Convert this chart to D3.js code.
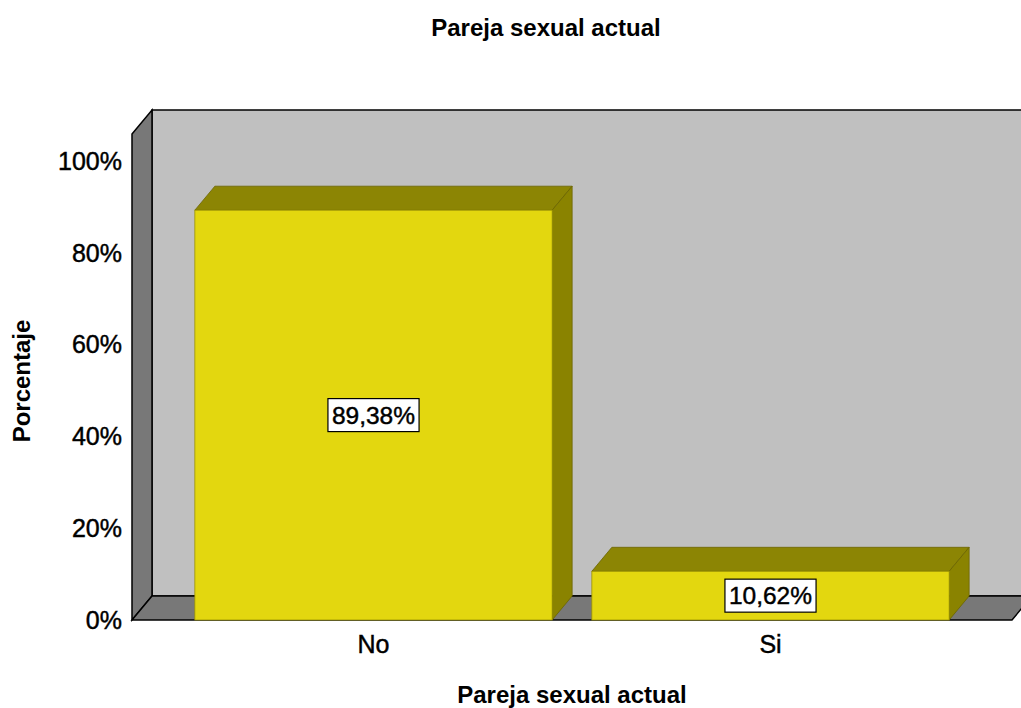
<!DOCTYPE html>
<html>
<head>
<meta charset="utf-8">
<script src="https://cdn.jsdelivr.net/npm/d3@7"></script>
<style>
  body { margin: 0; background: #fff; }
  text { font-family: "Liberation Sans", Arial, sans-serif; fill: #000; }
  .lbl { stroke: #000; stroke-width: 0.45px; }
</style>
</head>
<body>
<svg id="chart" width="1021" height="708"></svg>
<script>
const categories = ["No", "Si"];
const values = [0.8938, 0.1062];
const yTicks = [0, 0.2, 0.4, 0.6, 0.8, 1.0];

const width = 1021;
const height = 708;
const depthX = 20;
const depthY = -24;

const svg = d3.select("#chart");

const es = d3.formatLocale({ decimal: ",", thousands: ".", grouping: [3], currency: ["", "€"] });
const pct = es.format(".2%");

// front plane scales
const yScale = d3.scaleLinear().domain([0, 1]).range([620, 161.5]);
const xScale = d3.scaleBand()
    .domain(categories)
    .range([175, 969])
    .paddingInner(0.1)
    .paddingOuter(0.05);

const left = 132, right = 1012;
const floorY = yScale(0);
const topY = yScale(1.06);

function poly(pts) { return "M" + pts.map(p => p.join(",")).join("L") + "Z"; }

// back wall
svg.append("path")
    .attr("d", poly([[left + depthX, topY + depthY], [right + depthX + 40, topY + depthY],
        [right + depthX + 40, floorY + depthY], [left + depthX, floorY + depthY]]))
    .attr("fill", "#c0c0c0")
    .attr("stroke", "#000")
    .attr("stroke-width", 1.5);

// left wall
svg.append("path")
    .attr("d", poly([[left, topY], [left + depthX, topY + depthY],
        [left + depthX, floorY + depthY], [left, floorY]]))
    .attr("fill", "#787878")
    .attr("stroke", "#000")
    .attr("stroke-width", 1.5);

// floor
svg.append("path")
    .attr("d", poly([[left, floorY], [left + depthX, floorY + depthY],
        [right + depthX, floorY + depthY], [right, floorY]]))
    .attr("fill", "#787878")
    .attr("stroke", "#000")
    .attr("stroke-width", 1.5);

// bars
const bars = svg.selectAll(".bar")
    .data(categories.map((c, i) => ({ cat: c, value: values[i] })))
    .join("g")
    .attr("class", "bar");

bars.append("path") // top
    .attr("d", d => {
        const x0 = xScale(d.cat), x1 = x0 + xScale.bandwidth(), y = yScale(d.value);
        return poly([[x0, y], [x0 + depthX, y + depthY], [x1 + depthX, y + depthY], [x1, y]]);
    })
    .attr("fill", "#8c8504")
    .attr("stroke", "#6b6500")
    .attr("stroke-width", 0.8);

bars.append("path") // side
    .attr("d", d => {
        const x1 = xScale(d.cat) + xScale.bandwidth(), y = yScale(d.value);
        return poly([[x1, y], [x1 + depthX, y + depthY], [x1 + depthX, floorY + depthY], [x1, floorY]]);
    })
    .attr("fill", "#8a8300")
    .attr("stroke", "#6b6500")
    .attr("stroke-width", 0.8);

bars.append("rect") // front
    .attr("x", d => xScale(d.cat))
    .attr("y", d => yScale(d.value))
    .attr("width", xScale.bandwidth())
    .attr("height", d => floorY - yScale(d.value))
    .attr("fill", "#e3d70f")
    .attr("stroke", "#9a9200")
    .attr("stroke-width", 0.8);

// value labels
bars.each(function (d) {
    const g = d3.select(this);
    const cx = xScale(d.cat) + xScale.bandwidth() / 2;
    const cy = (yScale(d.value) + floorY) / 2;
    const t = g.append("text")
        .attr("class", "lbl")
        .attr("x", cx)
        .attr("y", cy)
        .attr("text-anchor", "middle")
        .attr("dy", "0.35em")
        .attr("font-size", "24.5px")
        .text(pct(d.value));
    const bb = t.node().getBBox();
    g.insert("rect", "text")
        .attr("x", bb.x - 4)
        .attr("y", cy - 16.5)
        .attr("width", bb.width + 8)
        .attr("height", 33)
        .attr("fill", "#fff")
        .attr("stroke", "#000")
        .attr("stroke-width", 1.2);
});

// y axis
const yAxis = svg.append("g")
    .attr("transform", `translate(${left},0)`)
    .call(d3.axisLeft(yScale).tickValues(yTicks).tickSize(0).tickPadding(10).tickFormat(d3.format(".0%")));
yAxis.select(".domain").remove();
yAxis.selectAll("text").attr("class", "lbl").attr("font-size", "25px").attr("font-family", "Liberation Sans, Arial, sans-serif");

// x axis
const xAxis = svg.append("g")
    .attr("transform", `translate(0,${floorY})`)
    .call(d3.axisBottom(xScale).tickSize(0).tickPadding(15));
xAxis.select(".domain").remove();
xAxis.selectAll("text").attr("class", "lbl").attr("font-size", "25px").attr("font-family", "Liberation Sans, Arial, sans-serif");

// titles
svg.append("text")
    .attr("x", 546)
    .attr("y", 28)
    .attr("dy", "0.35em")
    .attr("text-anchor", "middle")
    .attr("font-size", "24px")
    .attr("font-weight", "bold")
    .text("Pareja sexual actual");

svg.append("text")
    .attr("x", 572)
    .attr("y", 695)
    .attr("dy", "0.35em")
    .attr("text-anchor", "middle")
    .attr("font-size", "24px")
    .attr("font-weight", "bold")
    .text("Pareja sexual actual");

svg.append("text")
    .attr("transform", "translate(22,381) rotate(-90)")
    .attr("dy", "0.35em")
    .attr("text-anchor", "middle")
    .attr("font-size", "24px")
    .attr("font-weight", "bold")
    .text("Porcentaje");
</script>
</body>
</html>
